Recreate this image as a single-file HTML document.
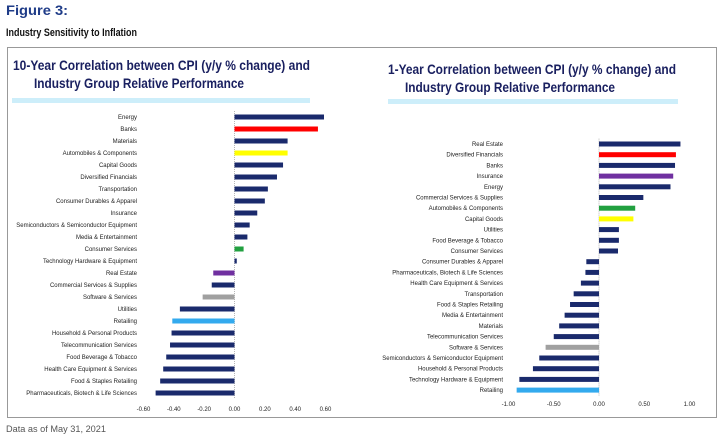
<!DOCTYPE html>
<html><head><meta charset="utf-8"><style>
html,body{margin:0;padding:0;background:#fff;}
svg{display:block;font-family:"Liberation Sans",sans-serif;}
</style></head><body>
<svg id="fig" width="720" height="439" viewBox="0 0 720 439">
<text x="6" y="15" font-size="14" font-weight="bold" fill="#1f3c88" textLength="62" lengthAdjust="spacingAndGlyphs">Figure 3:</text>
<text x="6" y="36" font-size="11" font-weight="bold" fill="#111" textLength="131" lengthAdjust="spacingAndGlyphs">Industry Sensitivity to Inflation</text>
<rect x="7.5" y="47.5" width="709" height="370" fill="none" stroke="#999" stroke-width="1"/>
<text x="13" y="70" font-size="14" font-weight="bold" fill="#1a2060" textLength="297" lengthAdjust="spacingAndGlyphs">10-Year Correlation between CPI (y/y % change) and</text>
<text x="34" y="88" font-size="14" font-weight="bold" fill="#1a2060" textLength="210" lengthAdjust="spacingAndGlyphs">Industry Group Relative Performance</text>
<rect x="12" y="98" width="298" height="5" fill="#cdeefa"/>
<text x="388" y="74" font-size="14" font-weight="bold" fill="#1a2060" textLength="288" lengthAdjust="spacingAndGlyphs">1-Year Correlation between CPI (y/y % change) and</text>
<text x="405" y="92" font-size="14" font-weight="bold" fill="#1a2060" textLength="210" lengthAdjust="spacingAndGlyphs">Industry Group Relative Performance</text>
<rect x="388" y="99" width="290" height="5" fill="#cdeefa"/>
<text x="6" y="432" font-size="9" fill="#555" textLength="100" lengthAdjust="spacingAndGlyphs">Data as of May 31, 2021</text>
<g id="left"></g>
<g id="right"></g>
</svg>
<script>
const leftCategories = ["Energy","Banks","Materials","Automobiles & Components","Capital Goods","Diversified Financials","Transportation","Consumer Durables & Apparel","Insurance","Semiconductors & Semiconductor Equipment","Media & Entertainment","Consumer Services","Technology Hardware & Equipment","Real Estate","Commercial Services & Supplies","Software & Services","Utilities","Retailing","Household & Personal Products","Telecommunication Services","Food Beverage & Tobacco","Health Care Equipment & Services","Food & Staples Retailing","Pharmaceuticals, Biotech & Life Sciences"];
const leftValues = [0.59,0.55,0.35,0.35,0.32,0.28,0.22,0.20,0.15,0.10,0.085,0.06,0.015,-0.14,-0.15,-0.21,-0.36,-0.41,-0.415,-0.425,-0.45,-0.47,-0.49,-0.52];
const leftColors = ["#1a2a6c","#ff0000","#1a2a6c","#ffff00","#1a2a6c","#1a2a6c","#1a2a6c","#1a2a6c","#1a2a6c","#1a2a6c","#1a2a6c","#22a040","#1a2a6c","#7030a0","#1a2a6c","#a0a0a0","#1a2a6c","#33aaee","#1a2a6c","#1a2a6c","#1a2a6c","#1a2a6c","#1a2a6c","#1a2a6c"];
const leftTicks = [-0.6,-0.4,-0.2,0,0.2,0.4,0.6];
const leftTickLabels = ["-0.60","-0.40","-0.20","0.00","0.20","0.40","0.60"];

const rightCategories = ["Real Estate","Diversified Financials","Banks","Insurance","Energy","Commercial Services & Supplies","Automobiles & Components","Capital Goods","Utilities","Food Beverage & Tobacco","Consumer Services","Consumer Durables & Apparel","Pharmaceuticals, Biotech & Life Sciences","Health Care Equipment & Services","Transportation","Food & Staples Retailing","Media & Entertainment","Materials","Telecommunication Services","Software & Services","Semiconductors & Semiconductor Equipment","Household & Personal Products","Technology Hardware & Equipment","Retailing"];
const rightValues = [0.90,0.85,0.84,0.82,0.79,0.49,0.40,0.38,0.22,0.22,0.21,-0.14,-0.15,-0.20,-0.28,-0.32,-0.38,-0.44,-0.50,-0.59,-0.66,-0.73,-0.88,-0.91];
const rightColors = ["#1a2a6c","#ff0000","#1a2a6c","#7030a0","#1a2a6c","#1a2a6c","#22a040","#ffff00","#1a2a6c","#1a2a6c","#1a2a6c","#1a2a6c","#1a2a6c","#1a2a6c","#1a2a6c","#1a2a6c","#1a2a6c","#1a2a6c","#1a2a6c","#a0a0a0","#1a2a6c","#1a2a6c","#1a2a6c","#33aaee"];
const rightTicks = [-1,-0.5,0,0.5,1];
const rightTickLabels = ["-1.00","-0.50","0.00","0.50","1.00"];

const NS="http://www.w3.org/2000/svg";
function mk(parent,tag,attrs){const e=document.createElementNS(NS,tag);for(const k in attrs)e.setAttribute(k,attrs[k]);parent.appendChild(e);return e;}

function drawChart(g,cats,vals,cols,ticks,tickLabels,cfg){
  const x=v=>cfg.x0+v*cfg.scale;
  const y=i=>cfg.y0+i*cfg.step;
  const zero=x(0);
  const axTop=y(0)-cfg.step/2, axBot=y(cats.length-1)+cfg.step/2;
  const ax=mk(g,'line',{x1:zero,x2:zero,y1:axTop,y2:axBot,stroke:'#999','stroke-width':0.7,'stroke-dasharray':'1,1'});
  
  
  cats.forEach((c,i)=>{
    const v=vals[i];
    const r=mk(g,'rect',{x:Math.min(x(v),zero),y:y(i)-cfg.bh/2,width:Math.abs(x(v)-zero),height:cfg.bh,fill:cols[i]});
    
    
    const t=mk(g,'text',{x:cfg.labelX,y:y(i)+2,'font-size':6,'text-anchor':'end',fill:'#222'});
    t.textContent=c;
    
    
  });
  ticks.forEach((v,i)=>{
    const t=mk(g,'text',{x:x(v),y:cfg.tickY,'font-size':6,'text-anchor':'middle',fill:'#222'});
    t.textContent=tickLabels[i];
    
    
  });
}
drawChart(document.getElementById('left'),leftCategories,leftValues,leftColors,leftTicks,leftTickLabels,
  {x0:234.5,scale:151.7,y0:117,step:12,bh:5,labelX:137,tickY:411});
drawChart(document.getElementById('right'),rightCategories,rightValues,rightColors,rightTicks,rightTickLabels,
  {x0:599,scale:90.5,y0:144,step:10.7,bh:5,labelX:503,tickY:406});
</script>
</body></html>
